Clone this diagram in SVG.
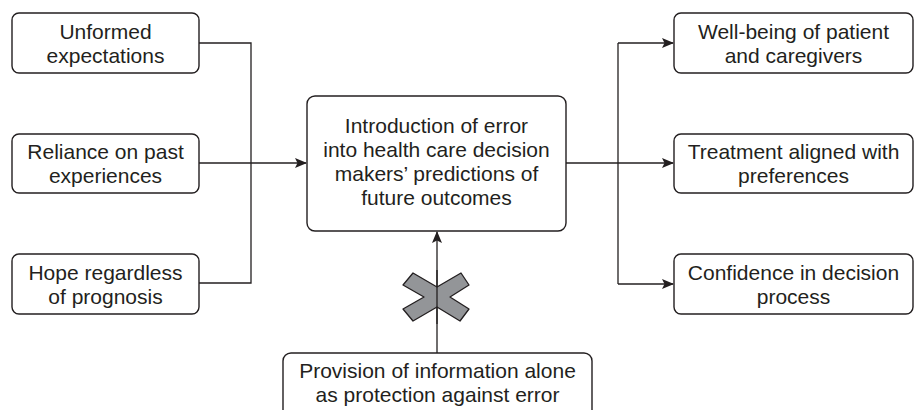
<svg xmlns="http://www.w3.org/2000/svg" width="914" height="410" viewBox="0 0 914 410">
<defs>
<style>
.box{fill:#fff;stroke:#231f20;stroke-width:1.4}
.t{font-family:"Liberation Sans",Arial,sans-serif;font-size:21px;fill:#231f20;text-anchor:middle}
.c{fill:none;stroke:#231f20;stroke-width:1.3}
</style>
<marker id="ah" markerWidth="12" markerHeight="10" viewBox="0 0 12 10" refX="11" refY="5" orient="auto" markerUnits="userSpaceOnUse">
<path d="M0,0 L12,5 L0,10 L2.5,5 Z" fill="#231f20"/>
</marker>
</defs>
<rect width="914" height="410" fill="#fff"/>
<g id="connectors">
<polyline class="c" points="199,43 251,43 251,283 199,283"/>
<line class="c" x1="199" y1="163" x2="306" y2="163" marker-end="url(#ah)"/>
<line class="c" x1="566" y1="163" x2="618" y2="163"/>
<line class="c" x1="618" y1="43" x2="618" y2="284"/>
<line class="c" x1="618" y1="43" x2="673" y2="43" marker-end="url(#ah)"/>
<line class="c" x1="618" y1="163" x2="673" y2="163" marker-end="url(#ah)"/>
<line class="c" x1="618" y1="284" x2="673" y2="284" marker-end="url(#ah)"/>
<line class="c" x1="437" y1="353" x2="437" y2="232" marker-end="url(#ah)"/>
</g>
<g id="cross">
<polygon points="437,287 461,273 469,285 450,297 469,309 460,321 437,307 413,321 403,309 424,297 403,285 413,273" fill="#939598" stroke="#231f20" stroke-width="1.3" stroke-linejoin="round"/>
<line class="c" x1="437" y1="270" x2="437" y2="324"/>
</g>
<g id="unformed">
<rect class="box" x="12" y="13" width="187" height="60" rx="7"/>
<text class="t" x="105.5" y="38.5">Unformed</text>
<text class="t" x="105.5" y="62.5">expectations</text>
</g>
<g id="reliance">
<rect class="box" x="12" y="134" width="187" height="59" rx="7"/>
<text class="t" x="105.5" y="159">Reliance on past</text>
<text class="t" x="105.5" y="183">experiences</text>
</g>
<g id="hope">
<rect class="box" x="12" y="254" width="187" height="60" rx="7"/>
<text class="t" x="105.5" y="279.5">Hope regardless</text>
<text class="t" x="105.5" y="303.5">of prognosis</text>
</g>
<g id="center">
<rect class="box" x="307" y="96" width="259" height="135" rx="8"/>
<text class="t" x="436.5" y="133">Introduction of error</text>
<text class="t" x="436.5" y="157">into health care decision</text>
<text class="t" x="436.5" y="181">makers’ predictions of</text>
<text class="t" x="436.5" y="205">future outcomes</text>
</g>
<g id="wellbeing">
<rect class="box" x="674" y="13" width="239" height="60" rx="7"/>
<text class="t" x="793.5" y="38.5">Well-being of patient</text>
<text class="t" x="793.5" y="62.5">and caregivers</text>
</g>
<g id="treatment">
<rect class="box" x="674" y="134" width="239" height="59" rx="7"/>
<text class="t" x="793.5" y="159">Treatment aligned with</text>
<text class="t" x="793.5" y="183">preferences</text>
</g>
<g id="confidence">
<rect class="box" x="674" y="254" width="239" height="60" rx="7"/>
<text class="t" x="793.5" y="279.5">Confidence in decision</text>
<text class="t" x="793.5" y="303.5">process</text>
</g>
<g id="provision">
<rect class="box" x="283" y="353" width="309" height="66" rx="8"/>
<text class="t" x="437.5" y="378">Provision of information alone</text>
<text class="t" x="437.5" y="402">as protection against error</text>
</g>
</svg>
